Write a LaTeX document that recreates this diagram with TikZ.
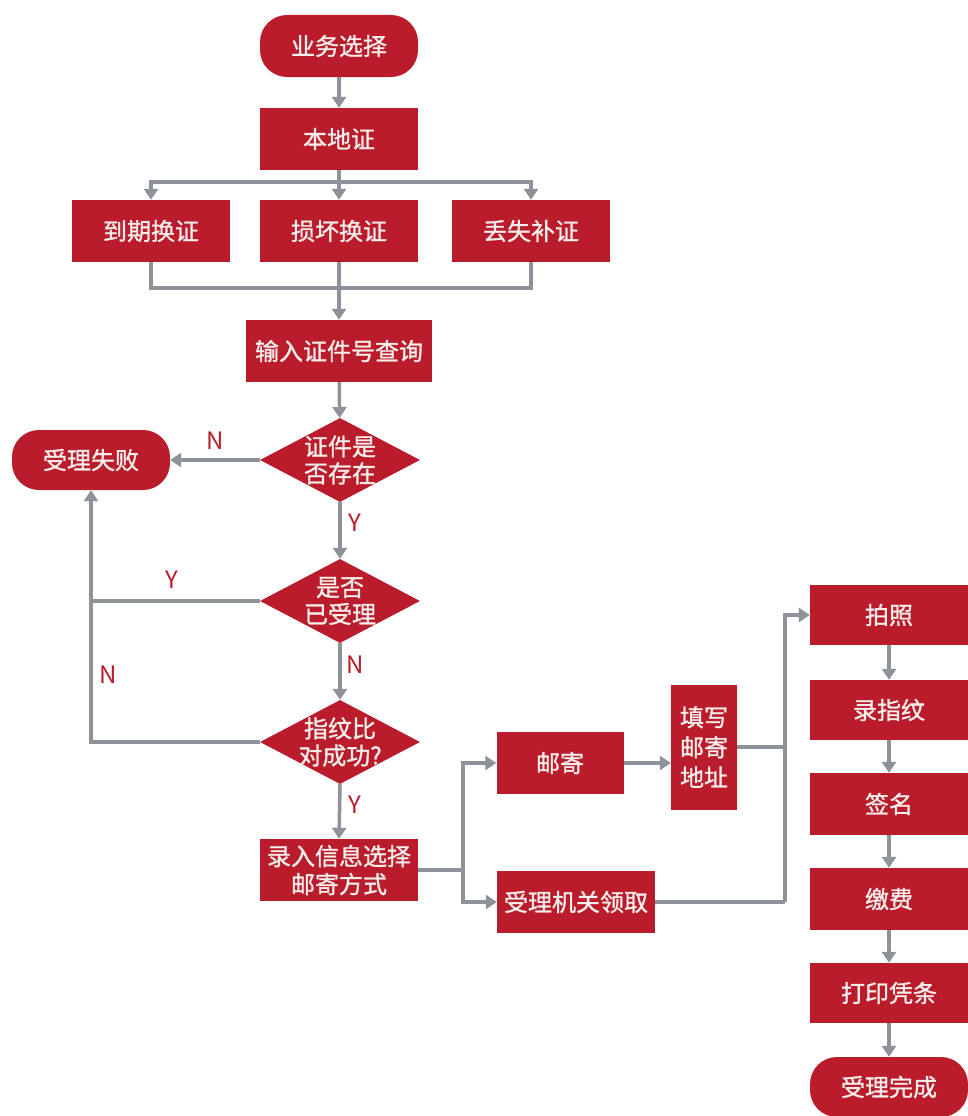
\documentclass[tikz,border=0pt]{standalone}
\usepackage{fontspec}
\setmainfont{Noto Sans CJK SC}
\newfontfamily\bxf{Noto Sans CJK SC}[FakeBold=1.2]
\usetikzlibrary{arrows.meta,shapes.geometric}
\definecolor{rd}{HTML}{BA1C2C}
\definecolor{gr}{HTML}{8E9399}
\definecolor{tx}{HTML}{F7EDEA}
\begin{document}
\begin{tikzpicture}[x=1pt,y=-1pt,
  box/.style={rectangle, fill=rd, text=tx, minimum width=158, minimum height=62, inner sep=0,
    font=\bxf\fontsize{24}{28}\selectfont, align=center},
  term/.style={box, rounded corners=27},
  dia/.style={diamond, fill=rd, minimum width=160, minimum height=84, inner sep=0},
  dtext/.style={text=tx, font=\bxf\fontsize{24}{27}\selectfont, align=center, inner sep=0},
  lbl/.style={text=rd, font=\fontsize{24}{24}\selectfont, inner sep=0},
  line/.style={draw=gr, line width=3.5pt},
  arr/.style={line, -{Triangle[width=14pt,length=11pt]}}]
\useasboundingbox (0,0) rectangle (968,1116);
\fill[white] (0,0) rectangle (968,1116);
% nodes
\node[term] (start) at (339,46) {业务选择};
\node[box] (bendi) at (339,139) {本地证};
\node[box] (b1) at (151,231) {到期换证};
\node[box] (b2) at (339,231) {损坏换证};
\node[box] (b3) at (531,231) {丢失补证};
\node[box, minimum width=186] (query) at (339,351) {输入证件号查询};
\node[dia] (d1) at (340,460) {};
\node[dtext] (d1t) at (d1) {证件是\\否存在};
\node[term, minimum height=60] (fail) at (91,460) {受理失败};
\node[dia] (d2) at (340,601) {};
\node[dtext] (d2t) at (d2) {是否\\已受理};
\node[dia] (d3) at (340,742) {};
\node[dtext] (d3t) at (d3) {指纹比\\对成功?};
\node[box, minimum height=62] (luru) at (339,870) {录入信息选择\\邮寄方式};
\node[box, minimum width=127, minimum height=62] (youji) at (560,763) {邮寄};
\node[box, minimum height=62] (lingqu) at (576,902) {受理机关领取};
\node[box, minimum width=66, minimum height=125, font=\bxf\fontsize{24}{30}\selectfont] (tianxie) at (704,747) {填写\\邮寄\\地址};
\node[box, minimum height=60] (pz) at (889,615) {拍照};
\node[box, minimum height=60] (lzw) at (889,710) {录指纹};
\node[box, minimum height=62] (qm) at (889,804) {签名};
\node[box, minimum height=62] (jf) at (889,899) {缴费};
\node[box, minimum height=60] (dy) at (889,993) {打印凭条};
\node[term, minimum height=60] (wc) at (889,1087) {受理完成};
% connectors
\draw[arr] (start) -- (bendi);
\draw[arr] (bendi) -- (b2);
\draw[arr] (bendi.south) -- ++(0,12) -| (b1.north);
\draw[arr] (bendi.south) -- ++(0,12) -| (b3.north);
\draw[line] (b1.south) -- ++(0,26) -| (b3.south);
\draw[arr] (b2) -- (query);
\draw[arr] (query) -- (d1);
\draw[arr] (d1.west) -- (fail.east);
\draw[arr] (d1.south) -- (d2.north);
\draw[arr] (d2.south) -- (d3.north);
\draw[line] (d2.west) -- (fail.south |- d2.west);
\draw[arr] (d3.west) -| (fail.south);
\draw[arr] (d3.south) -- (luru.north);
\coordinate (j1) at (463,870);
\draw[line] (luru.east) -- (j1);
\draw[arr] (j1) |- (youji.west);
\draw[arr] (j1) |- (lingqu.west);
\draw[arr] (youji.east) -- (youji.east -| tianxie.west);
\coordinate (j2) at (785,902);
\draw[line] (lingqu.east) -- (j2);
\draw[line] (tianxie.east) -- (tianxie.east -| j2);
\draw[arr] (j2) |- (pz.west);
\draw[arr] (pz) -- (lzw);
\draw[arr] (lzw) -- (qm);
\draw[arr] (qm) -- (jf);
\draw[arr] (jf) -- (dy);
\draw[arr] (dy) -- (wc);
% labels
\node[lbl] (n1) at (215,441) {N};
\node[lbl] (y1) at (355,523) {Y};
\node[lbl] (y2) at (172,580) {Y};
\node[lbl] (n2) at (355,665) {N};
\node[lbl] (n3) at (108,675) {N};
\node[lbl] (y3) at (355,805) {Y};
\end{tikzpicture}
\end{document}
